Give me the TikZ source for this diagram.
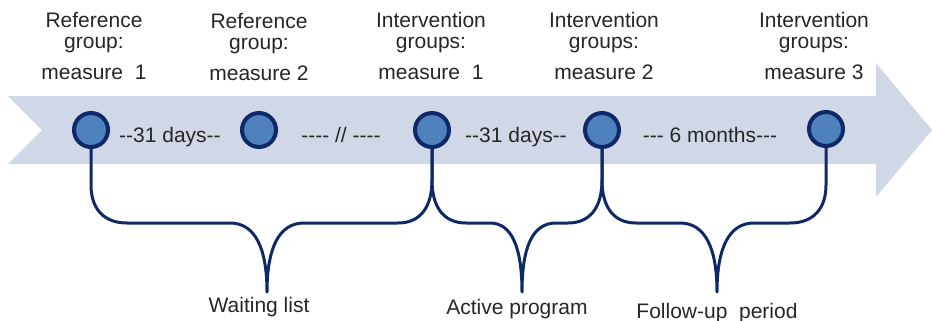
\documentclass[tikz,border=0pt]{standalone}
\usepackage{fontspec}
\setmainfont{Liberation Sans}[Ligatures=TeXOff]
\usepackage{tikz}

\definecolor{bandblue}{RGB}{208,216,231}
\definecolor{dotblue}{RGB}{79,129,189}
\definecolor{navy}{RGB}{14,40,104}
\definecolor{txtgray}{RGB}{38,38,38}

\begin{document}
\begin{tikzpicture}[x=0.5pt,y=-0.5pt,
  dot/.style={circle,draw=navy,fill=dotblue,line width=2pt,minimum size=17pt,inner sep=0pt},
  lbl/.style={text=txtgray,font=\fontsize{10.5}{10.5}\selectfont,inner sep=0pt},
  toplbl/.style={lbl,align=center,anchor=north},
  brace/.style={draw=navy,line width=1.5pt,line join=round}]
\useasboundingbox (0,0) rectangle (932,321);
% time band
\fill[bandblue] (8,96) -- (876,96) -- (876,63) -- (932,130) -- (876,197) -- (876,164) -- (8,164) -- (42,130) -- cycle;
% measure points
\node[dot] (c1) at (91,130) {};
\node[dot] (c2) at (259,130) {};
\node[dot] (c3) at (432,130) {};
\node[dot] (c4) at (602,130) {};
\node[dot] (c5) at (826,129) {};
% headings
\node[toplbl] (h1) at (94,12) {Reference\\group:\\[5pt]measure\ \ 1};
\node[toplbl] (h2) at (259,13) {Reference\\group:\\[5pt]measure 2};
\node[toplbl] (h3) at (431,12) {Intervention\\groups:\\[5pt]measure\ \ 1};
\node[toplbl] (h4) at (604,12) {Intervention\\groups:\\[5pt]measure 2};
\node[toplbl] (h5) at (814,12) {Intervention\\groups:\\[5pt]measure 3};
% intervals
\node[lbl,anchor=base] (d1) at (170,142) {--31 days--};
\node[lbl,anchor=base] (d2) at (341,142) {---- // ----};
\node[lbl,anchor=base] (d3) at (516,142) {--31 days--};
\node[lbl,anchor=base] (d4) at (710,142) {--- 6 months---};
% phases
\node[lbl,anchor=base] (wl) at (259,312) {Waiting list};
\node[lbl,anchor=base] (ap) at (517,314) {Active program};
\node[lbl,anchor=base] (fu) at (717,318) {Follow-up\ \ period};
\coordinate (t1) at (267,292);
\coordinate (t2) at (522,292);
\coordinate (t3) at (717,292);
% braces
\draw[brace] (c1.south) -- (91,185) .. controls (91,210) and (105,223) .. (127,223) -- (230,223)
  .. controls (255,223) and (267,248) .. (t1) .. controls (267,248) and (279,223) .. (304,223)
  -- (398,223) .. controls (422,223) and (432,205) .. (432,180) -- (c3.south);
\draw[brace] (c3.south) -- (432,180) .. controls (432,205) and (442,223) .. (466,223) -- (490,223)
  .. controls (512,223) and (522,248) .. (t2) .. controls (522,248) and (532,223) .. (556,223)
  -- (568,223) .. controls (592,223) and (602,205) .. (602,180) -- (c4.south);
\draw[brace] (c4.south) -- (602,180) .. controls (602,205) and (612,223) .. (636,223) -- (680,223)
  .. controls (705,223) and (717,248) .. (t3) .. controls (717,248) and (729,223) .. (754,223)
  -- (790,223) .. controls (814,223) and (826,208) .. (826,185) -- (c5.south);
\end{tikzpicture}
\end{document}
